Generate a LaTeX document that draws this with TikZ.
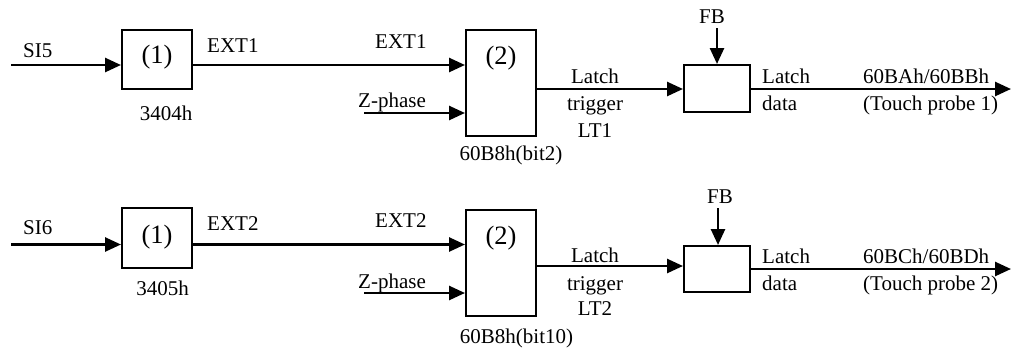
\documentclass[tikz,border=0pt]{standalone}
\usepackage{fontspec}
\setmainfont{Liberation Serif}
\usetikzlibrary{arrows.meta}
\begin{document}
\begin{tikzpicture}[x=1pt,y=-1pt,
  box/.style={draw,line width=2pt,rectangle,inner sep=0pt},
  arr/.style={line width=2.6pt,-{Triangle[length=16pt,width=14pt]}},
  lbl/.style={inner sep=0pt,font=\fontsize{21}{25}\selectfont},
  num/.style={inner sep=0pt,font=\fontsize{26.5}{30}\selectfont}]
\useasboundingbox (0,0) rectangle (1016,354);
% ---------- top row ----------
\node[box,minimum width=70pt,minimum height=59pt] (b1a) at (157,59.5) {};
\node[box,minimum width=70pt,minimum height=106pt] (b2a) at (501,83) {};
\node[box,minimum width=66pt,minimum height=47pt] (b3a) at (717,88.5) {};
\node[num] (n1a) at (157,57) {(1)};
\node[num] (n2a) at (501,58) {(2)};
\coordinate (si5) at (11,65);
\coordinate (z1) at (364,113);
\coordinate (fb1) at (717,28);
\coordinate (out1) at (1011,89);
\draw[arr] (si5) -- (si5 -| b1a.west);
\draw[arr] (si5 -| b1a.east) -- (si5 -| b2a.west);
\draw[arr] (z1) -- (z1 -| b2a.west);
\draw[arr] (b2a.east |- out1) -- (b3a.west |- out1);
\draw[arr] (fb1) -- (b3a.north);
\draw[arr] (b3a.east |- out1) -- (out1);
\node[lbl,anchor=base west] (tsi5) at (23,57) {SI5};
\node[lbl,anchor=base] (t3404) at (166,120) {3404h};
\node[lbl,anchor=base west] (text1a) at (207,52) {EXT1};
\node[lbl,anchor=base west] (text1b) at (375,48) {EXT1};
\node[lbl,anchor=base west] (tz1) at (358,107) {Z-phase};
\node[lbl,anchor=base] (tla) at (595,83) {Latch};
\node[lbl,anchor=base] (ttra) at (595,110) {trigger};
\node[lbl,anchor=base] (tlt1) at (595,137) {LT1};
\node[lbl,anchor=base] (tbit2) at (511,160) {60B8h(bit2)};
\node[lbl,anchor=base] (tfb1) at (712,23) {FB};
\node[lbl,anchor=base west] (tlda) at (762,83) {Latch};
\node[lbl,anchor=base west] (tdaa) at (762,110) {data};
\node[lbl,anchor=base west] (tba) at (863,83) {60BAh/60BBh};
\node[lbl,anchor=base west] (ttp1) at (863,110) {(Touch probe 1)};
% ---------- bottom row ----------
\node[box,minimum width=70pt,minimum height=60pt] (b1b) at (157,238) {};
\node[box,minimum width=70pt,minimum height=106pt] (b2b) at (501,263) {};
\node[box,minimum width=66pt,minimum height=46pt] (b3b) at (717,269) {};
\node[num] (n1b) at (157,237) {(1)};
\node[num] (n2b) at (501,238) {(2)};
\coordinate (si6) at (11,244.5);
\coordinate (z2) at (364,293);
\coordinate (fb2) at (718,208);
\coordinate (trg2) at (0,266);
\coordinate (out2) at (1011,269);
\draw[arr] (si6) -- (si6 -| b1b.west);
\draw[arr] (si6 -| b1b.east) -- (si6 -| b2b.west);
\draw[arr] (z2) -- (z2 -| b2b.west);
\draw[arr] (b2b.east |- trg2) -- (b3b.west |- trg2);
\draw[arr] (fb2) -- (b3b.north -| fb2);
\draw[arr] (b3b.east |- out2) -- (out2);
\node[lbl,anchor=base west] (tsi6) at (23,234) {SI6};
\node[lbl,anchor=base] (t3405) at (162.5,295) {3405h};
\node[lbl,anchor=base west] (text2a) at (207,230) {EXT2};
\node[lbl,anchor=base west] (text2b) at (375,227) {EXT2};
\node[lbl,anchor=base west] (tz2) at (358,288) {Z-phase};
\node[lbl,anchor=base] (tlb) at (595,262) {Latch};
\node[lbl,anchor=base] (ttrb) at (595,290) {trigger};
\node[lbl,anchor=base] (tlt2) at (595,315) {LT2};
\node[lbl,anchor=base] (tbit10) at (516.5,343) {60B8h(bit10)};
\node[lbl,anchor=base] (tfb2) at (720,203) {FB};
\node[lbl,anchor=base west] (tldb) at (762,263) {Latch};
\node[lbl,anchor=base west] (tdab) at (762,290) {data};
\node[lbl,anchor=base west] (tbb) at (863,263) {60BCh/60BDh};
\node[lbl,anchor=base west] (ttp2) at (863,290) {(Touch probe 2)};
\end{tikzpicture}
\end{document}
